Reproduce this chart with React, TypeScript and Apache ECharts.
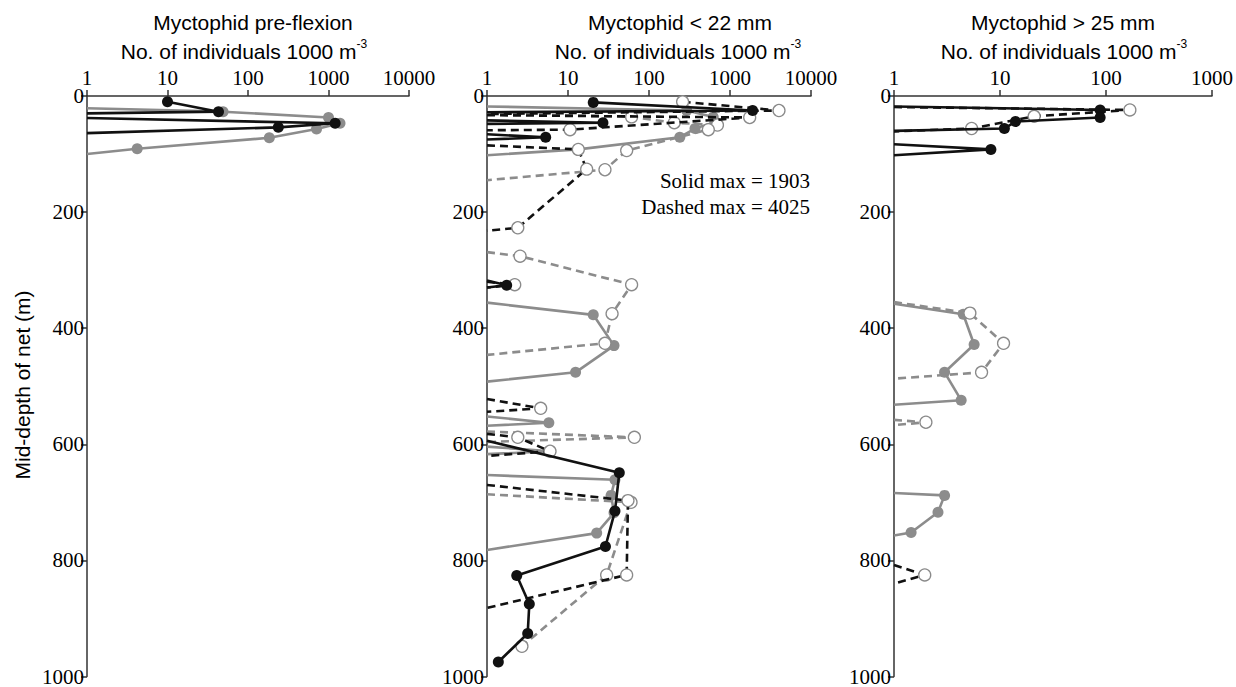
import React, { useEffect, useRef } from 'react';
import * as echarts from 'echarts';

type Pt = [number, number]; // [individuals per 1000 m3 (0 = none), mid-depth m]

const FONT_SERIF = "'Liberation Serif', 'Times New Roman', serif";
const FONT_SANS = "'Liberation Sans', Arial, sans-serif";

const panelTitles = ['Myctophid pre-flexion', 'Myctophid < 22 mm', 'Myctophid > 25 mm'];
const unitLabel = 'No. of individuals 1000 m';
const unitSup = '-3';
const yAxisTitle = 'Mid-depth of net (m)';
const xMaxes = [10000, 10000, 1000];
const depthMin = 0;
const depthMax = 1000;
const depthStep = 200;
const noteLines = ['Solid max = 1903', 'Dashed max = 4025'];

// Panel 1: pre-flexion
const preBlackSolid: Pt[][] = [
  [[10, 10], [43, 27], [0, 30]],
  [[0, 38], [1210, 47], [238, 54], [0, 64]],
];
const preGraySolid: Pt[][] = [
  [[0, 21], [49, 27], [1000, 37], [1390, 47], [710, 57], [184, 72], [4.2, 91], [0, 100]],
];

// Panel 2: < 22 mm
const smallBlackSolid: Pt[][] = [
  [[20.5, 11], [1903, 25], [0, 28]],
  [[0, 42], [27, 46], [0, 48]],
  [[0, 66], [5.3, 71], [0, 75]],
  [[0, 318], [1.75, 326], [0, 330]],
  [[0, 594], [43, 649], [38, 715], [29, 776], [2.33, 826], [3.33, 875], [3.18, 926], [1.38, 975]],
];
const smallBlackDashed: Pt[][] = [
  [[260, 10], [4025, 25], [0, 31]],
  [[0, 33], [1750, 37], [10.6, 58], [0, 59]],
  [[0, 85], [13.4, 92], [17, 126], [2.4, 227], [0, 232]],
  [[0, 320], [2.2, 325], [0, 330]],
  [[0, 522], [4.6, 538], [0, 544]],
  [[0, 582], [2.4, 588], [6, 612], [0, 620]],
  [[0, 670], [55, 697], [53, 825], [0, 882]],
];
const smallGraySolid: Pt[][] = [
  [[0, 18], [292, 25], [620, 36], [650, 45], [370, 56], [240, 71], [13.4, 92], [0, 102]],
  [[0, 356], [20.5, 377], [37, 430], [12.4, 476], [0, 492]],
  [[0, 552], [5.8, 563], [0, 568]],
  [[0, 604], [6, 612], [0, 617]],
  [[0, 653], [38, 661], [34, 688], [37, 718], [22.6, 753], [0, 782]],
];
const smallGrayDashed: Pt[][] = [
  [[0, 30], [61, 36], [205, 46], [700, 50], [540, 58], [53, 94], [28.6, 127], [0, 145]],
  [[0, 269], [2.56, 276], [61, 325], [35, 375], [28.6, 426], [0, 446]],
  [[0, 578], [66, 588], [0, 596]],
  [[0, 686], [60, 700], [30, 825], [2.7, 948]],
];

// Panel 3: > 25 mm
const bigBlackSolid: Pt[][] = [
  [[0, 18], [88, 24], [88, 37], [14, 44], [11, 56], [0, 60]],
  [[0, 83], [8.2, 92], [0, 102]],
];
const bigBlackDashed: Pt[][] = [
  [[0, 19], [168, 24], [21, 35], [5.4, 56], [0, 61]],
  [[0, 808], [1.95, 825], [0, 840]],
];
const bigGraySolid: Pt[][] = [
  [[0, 358], [4.5, 376], [5.7, 428], [3.0, 476], [4.3, 524], [0, 532]],
  [[0, 684], [3.0, 688], [2.6, 717], [1.45, 752], [0, 757]],
];
const bigGrayDashed: Pt[][] = [
  [[0, 355], [5.2, 374], [10.8, 426], [6.7, 476], [0, 487]],
  [[0, 558], [2.0, 562], [0, 567]],
];

type Kind = 'blackSolid' | 'blackDashed' | 'graySolid' | 'grayDashed';

const panelSeries: { kind: Kind; segs: Pt[][] }[][] = [
  [
    { kind: 'graySolid', segs: preGraySolid },
    { kind: 'blackSolid', segs: preBlackSolid },
  ],
  [
    { kind: 'graySolid', segs: smallGraySolid },
    { kind: 'grayDashed', segs: smallGrayDashed },
    { kind: 'blackDashed', segs: smallBlackDashed },
    { kind: 'blackSolid', segs: smallBlackSolid },
  ],
  [
    { kind: 'graySolid', segs: bigGraySolid },
    { kind: 'grayDashed', segs: bigGrayDashed },
    { kind: 'blackDashed', segs: bigBlackDashed },
    { kind: 'blackSolid', segs: bigBlackSolid },
  ],
];

const BLACK = '#111111';
const GRAY = '#8c8c8c';
const AXIS = '#333333';

const grids = [
  { left: 87, width: 322 },
  { left: 487, width: 324 },
  { left: 894, width: 322 },
];
const titleCenters = [
  [253, 244],
  [680, 678],
  [1063, 1064],
];

function toData(seg: Pt[]) {
  return seg.map(([v, d]) =>
    v > 0 ? { value: [v, d] } : { value: [1, d], symbol: 'none' }
  );
}

function styleFor(kind: Kind) {
  const isBlack = kind === 'blackSolid' || kind === 'blackDashed';
  const dashed = kind === 'blackDashed' || kind === 'grayDashed';
  const color = isBlack ? BLACK : GRAY;
  return {
    lineStyle: { color, width: 2.6, type: dashed ? [8, 5] : 'solid' },
    itemStyle: dashed
      ? { color: '#ffffff', borderColor: '#8a8a8a', borderWidth: 1.3 }
      : { color, borderWidth: 0 },
    symbolSize: dashed ? 12 : 11,
  };
}

export default function App() {
  const ref = useRef<HTMLDivElement>(null);

  useEffect(() => {
    if (!ref.current) return;
    const chart = echarts.init(ref.current, undefined, { renderer: 'svg' });

    const series: any[] = [];
    panelSeries.forEach((list, pi) => {
      list.forEach(({ kind, segs }) => {
        const st = styleFor(kind);
        segs.forEach((seg) => {
          series.push({
            type: 'line',
            xAxisIndex: pi,
            yAxisIndex: pi,
            data: toData(seg),
            symbol: 'circle',
            showSymbol: true,
            showAllSymbol: true,
            symbolSize: st.symbolSize,
            lineStyle: st.lineStyle,
            itemStyle: st.itemStyle,
            emphasis: { disabled: true },
            silent: true,
            clip: false,
            z: kind === 'blackSolid' ? 5 : kind === 'blackDashed' ? 4 : kind === 'grayDashed' ? 3 : 2,
          });
        });
      });
    });

    const graphic: any[] = [];
    panelTitles.forEach((t, i) => {
      graphic.push({
        type: 'text',
        x: titleCenters[i][0],
        y: 22,
        style: {
          text: t,
          fontSize: 21,
          fontFamily: FONT_SANS,
          fill: '#000',
          textAlign: 'center',
          textVerticalAlign: 'middle',
        },
      });
      graphic.push({
        type: 'text',
        x: titleCenters[i][1],
        y: 51,
        style: {
          text: `{a|${unitLabel}}{b|${unitSup}}`,
          fill: '#000',
          textAlign: 'center',
          textVerticalAlign: 'middle',
          rich: {
            a: { fontSize: 21, fontFamily: FONT_SANS, lineHeight: 26, fill: '#000' },
            b: { fontSize: 12, fontFamily: FONT_SANS, lineHeight: 13, verticalAlign: 'top', fill: '#000' },
          },
        },
      });
    });
    graphic.push({
      type: 'text',
      x: 22,
      y: 385,
      rotation: Math.PI / 2,
      style: {
        text: yAxisTitle,
        fontSize: 21,
        fontFamily: FONT_SANS,
        fill: '#000',
        textAlign: 'center',
        textVerticalAlign: 'middle',
      },
    });
    noteLines.forEach((t, i) => {
      graphic.push({
        type: 'text',
        x: 810,
        y: 181 + i * 26,
        style: {
          text: t,
          fontSize: 21,
          fontFamily: FONT_SERIF,
          fill: '#000',
          textAlign: 'right',
          textVerticalAlign: 'middle',
        },
      });
    });

    chart.setOption({
      animation: false,
      backgroundColor: '#ffffff',
      grid: grids.map((g) => ({ left: g.left, width: g.width, top: 96, height: 581 })),
      xAxis: xMaxes.map((mx, i) => ({
        type: 'log',
        logBase: 10,
        gridIndex: i,
        position: 'top',
        min: 1,
        max: mx,
        axisLine: { show: true, lineStyle: { color: AXIS, width: 1.5 } },
        axisTick: { show: true, length: 6, lineStyle: { color: AXIS, width: 1.5 } },
        minorTick: { show: false },
        splitLine: { show: false },
        axisLabel: {
          fontFamily: FONT_SERIF,
          fontSize: 21,
          color: '#000',
          margin: 8,
          formatter: (v: number) => String(Math.round(v)),
        },
      })),
      yAxis: xMaxes.map((_, i) => ({
        type: 'value',
        gridIndex: i,
        inverse: true,
        min: depthMin,
        max: depthMax,
        interval: depthStep,
        axisLine: { show: true, lineStyle: { color: AXIS, width: 1.5 } },
        axisTick: { show: true, length: 6, lineStyle: { color: AXIS, width: 1.5 } },
        splitLine: { show: false },
        axisLabel: {
          fontFamily: FONT_SERIF,
          fontSize: 21,
          color: '#000',
          margin: 3,
          formatter: (v: number) => String(v),
        },
      })),
      series,
      graphic,
    });

    return () => chart.dispose();
  }, []);

  return (
    <div
      ref={ref}
      style={{ position: 'fixed', left: 0, top: 0, width: 1236, height: 687, background: '#fff' }}
    />
  );
}
